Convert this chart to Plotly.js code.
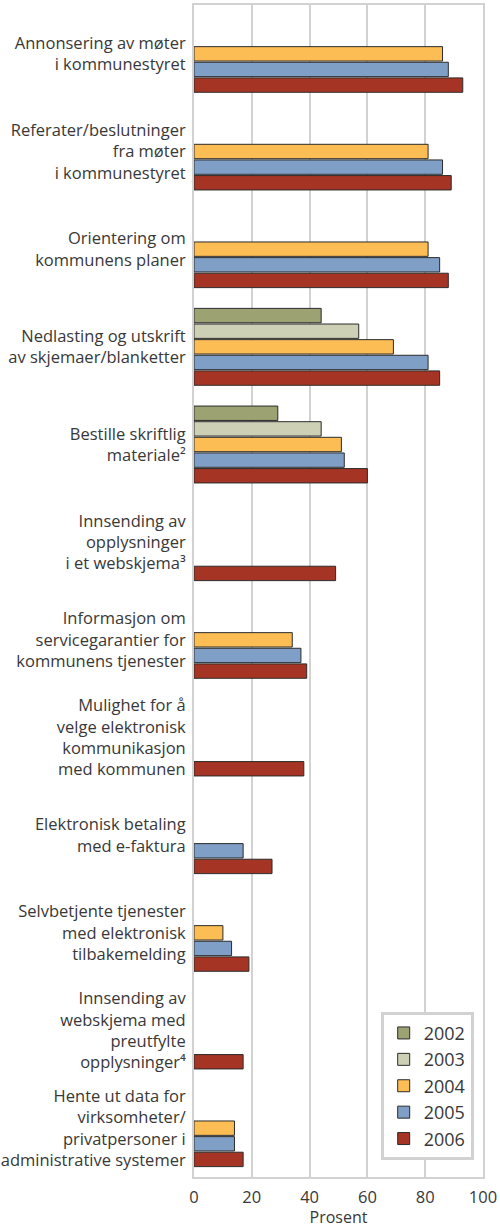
<!DOCTYPE html>
<html><head><meta charset="utf-8">
<script src="https://cdn.plot.ly/plotly-3.0.1.min.js"></script>
<style>html,body{margin:0;padding:0;background:#fff}</style>
</head><body><div id="chart" style="width:500px;height:1228px"></div>
<script>
const categories = [
  "Annonsering av møter<br>i kommunestyret",
  "Referater/beslutninger<br>fra møter<br>i kommunestyret",
  "Orientering om<br>kommunens planer",
  "Nedlasting og utskrift<br>av skjemaer/blanketter",
  "Bestille skriftlig<br>materiale²",
  "Innsending av<br>opplysninger<br>i et webskjema³",
  "Informasjon om<br>servicegarantier for<br>kommunens tjenester",
  "Mulighet for å<br>velge elektronisk<br>kommunikasjon<br>med kommunen",
  "Elektronisk betaling<br>med e-faktura",
  "Selvbetjente tjenester<br>med elektronisk<br>tilbakemelding",
  "Innsending av<br>webskjema med<br>preutfylte<br>opplysninger⁴",
  "Hente ut data for<br>virksomheter/<br>privatpersoner i<br>administrative systemer"
];
const years = ["2002", "2003", "2004", "2005", "2006"];
const v2002 = [null, null, null, 44, 29, null, null, null, null, null, null, null];
const v2003 = [null, null, null, 57, 44, null, null, null, null, null, null, null];
const v2004 = [86, 81, 81, 69, 51, null, 34, null, null, 10, null, 14];
const v2005 = [88, 86, 85, 81, 52, null, 37, null, 17, 13, null, 14];
const v2006 = [93, 89, 88, 85, 60, 49, 39, 38, 27, 19, 17, 17];
const xTicks = [0, 20, 40, 60, 80, 100];

const seriesValues = [v2002, v2003, v2004, v2005, v2006];
const colors = ["#9da272", "#cdd0b5", "#fdbd55", "#7f9fc6", "#a63424"];
const font = "Open Sans, Noto Sans, sans-serif";
const gridCol = "#d2d2d2";
const txtCol = "#383838";

const traces = years.map((yr, i) => ({
  type: "bar", orientation: "h", name: yr,
  y: categories, x: seriesValues[i],
  marker: {color: colors[i], line: {color: "#2b2b2b", width: 1}},
  hoverinfo: "x+name"
}));

const boundaryVals = categories.slice(1).map((c, i) => i + 0.5);

const layout = {
  width: 500, height: 1228,
  margin: {l: 194, r: 17, t: 5, b: 51},
  paper_bgcolor: "#fff", plot_bgcolor: "#fff",
  font: {family: font, size: 16.5, color: txtCol},
  barmode: "group", bargap: 0.2, bargroupgap: 0.08,
  showlegend: true,
  legend: {
    x: 0.646, xanchor: "left", y: 0.141, yanchor: "top",
    bgcolor: "#fff", bordercolor: "#d2d2d2", borderwidth: 3,
    font: {family: font, size: 18, color: txtCol},
    traceorder: "normal"
  },
  xaxis: {
    range: [0, 100], tickvals: xTicks, ticktext: xTicks.map(String),
    showgrid: true, gridcolor: gridCol, gridwidth: 2,
    showline: true, linecolor: gridCol, linewidth: 2, mirror: true,
    zeroline: false, ticks: "", fixedrange: true,
    tickfont: {family: font, size: 16.5, color: txtCol},
    ticklabelstandoff: 4,
    title: {text: "Prosent", font: {family: font, size: 16, color: txtCol}, standoff: 2}
  },
  yaxis: {
    type: "category", categoryorder: "array", categoryarray: categories,
    autorange: "reversed", showgrid: false, ticks: "",
    showline: true, linecolor: gridCol, linewidth: 2, mirror: true,
    tickfont: {family: font, size: 16.5, color: txtCol},
    ticklabelstandoff: 3
  },
  yaxis2: {
    overlaying: "y", range: [11.5, -0.5], tickvals: boundaryVals,
    showticklabels: false, showgrid: true, gridcolor: gridCol, gridwidth: 2,
    zeroline: false, ticks: "", showline: false, side: "right"
  }
};

Plotly.newPlot("chart", traces, layout, {displayModeBar: false, staticPlot: true});
</script></body></html>
